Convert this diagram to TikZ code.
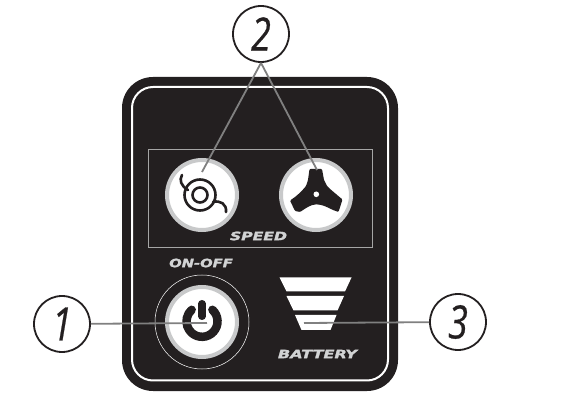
\documentclass[tikz,border=0pt]{standalone}
\usepackage{fontspec}
\setmainfont{DejaVu Sans}
\newfontfamily\callfont[ItalicFont={Open Sans Italic},ItalicFeatures={FakeBold=0.6}]{Open Sans}
\newfontfamily\labelfont[FakeBold=1.8]{DejaVu Sans Bold Oblique}
\definecolor{panel}{HTML}{231F20}
\definecolor{ringgray}{HTML}{C8C9CA}
\definecolor{linegray}{HTML}{808080}
\definecolor{labelgray}{HTML}{D2D3D4}
\tikzset{
  callout/.style={draw=panel,line width=1.8pt,fill=white,circle,minimum size=56pt,inner sep=0pt,font=\callfont\itshape\fontsize{46}{46}\selectfont,text=panel},
  leader/.style={draw=linegray,line width=1.8pt},
  knob/.style={circle,draw=ringgray,line width=4pt,fill=white,minimum size=70pt,inner sep=0pt},
  paneltext/.style={text=labelgray,font=\labelfont\fontsize{11.5}{11.5}\selectfont,inner sep=0pt},
  icon/.style={draw=panel,line width=2.6pt,line cap=round},
  barpiece/.style={fill=white,draw=none}
}
\begin{document}
\begin{tikzpicture}[x=1pt,y=-1pt]
\path[use as bounding box,fill=white] (0,0) rectangle (587,406);
% panel
\draw[fill=panel,draw=none,rounded corners=31pt] (122,77) rectangle (398,391);
\draw[draw=white,line width=2pt,rounded corners=21pt] (132,87) rectangle (388,380.5);
\draw[draw=linegray!70!white,line width=1pt] (148,150) rectangle (372,248);
% knobs
\node[knob] (spiralknob) at (202,195) {};
\node[knob] (bladeknob) at (316,195) {};
\node[circle,draw=white,line width=0.5pt,minimum size=94pt,inner sep=0pt] (powerhalo) at (202,322) {};
\node[knob] (powerknob) at (202,322) {};
% spiral icon
\draw[icon] (200,195) circle (15.5);
\draw[icon] (200,195) circle (7.5);
\draw[icon] (182,175) .. controls (179,180) and (181,186) .. (188,190);
\draw[icon] (213,202) .. controls (220,200) and (227,204) .. (226,212);
% blade icon
\fill[panel,rounded corners=1pt] (309.5,169) -- (322,169) -- (324,180) -- (327,186)
  .. controls (331,190) and (336,194) .. (342.5,199.5)
  -- (338.5,212) -- (333,210)
  .. controls (327,207) and (322,204.5) .. (316.5,204.5)
  .. controls (311,204.5) and (306,208) .. (300,212)
  -- (295,211) -- (290,200.5)
  .. controls (297,196) and (302,191) .. (306,186)
  -- (308,180) -- cycle;
\fill[white] (316.3,194.3) circle (2.8);
% power icon
\draw[panel,line width=8.5pt,line cap=round] (212.4,309.8) arc[start angle=-48,end angle=228,radius=15.5];
\draw[panel,line width=7.4pt,line cap=round] (202,303.7) -- (202,316.3);
% battery
\fill[barpiece] (279.5,277.5) -- (351.5,277.5) -- (345,291.5) -- (286.5,291.5) -- cycle;
\fill[barpiece] (286.5,296) -- (344,296) -- (337.5,310.5) -- (293.5,310.5) -- cycle;
\fill[barpiece] (295,315) -- (336.5,315) -- (330.5,330) -- (301.5,330) -- cycle;
% labels
\node[paneltext] (speedlabel) at (258.5,236) {\scalebox{1.36}[1]{SPEED}};
\node[paneltext] (onofflabel) at (201,263) {\scalebox{1.28}[1]{ON-OFF}};
\node[paneltext] (batterylabel) at (317.5,354) {\scalebox{1.4}[1]{BATTERY}};
% callouts
\node[callout] (n2) at (261,34) {\scalebox{0.78}[1]{2}};
\node[callout] (n1) at (62,324) {\scalebox{0.78}[1]{1}};
\node[callout] (n3) at (458,322) {\scalebox{0.78}[1]{3}};
\coordinate (tipspiral) at (202,172);
\coordinate (tipblade) at (317,170);
\coordinate (tippower) at (207,323);
\coordinate (tipbatt) at (304,323);
\draw[leader] (n2.south) -- (tipspiral);
\draw[leader] (n2.south) -- (tipblade);
\draw[leader] (n1) -- (tippower);
\draw[leader] (n3) -- (tipbatt);
\end{tikzpicture}
\end{document}
